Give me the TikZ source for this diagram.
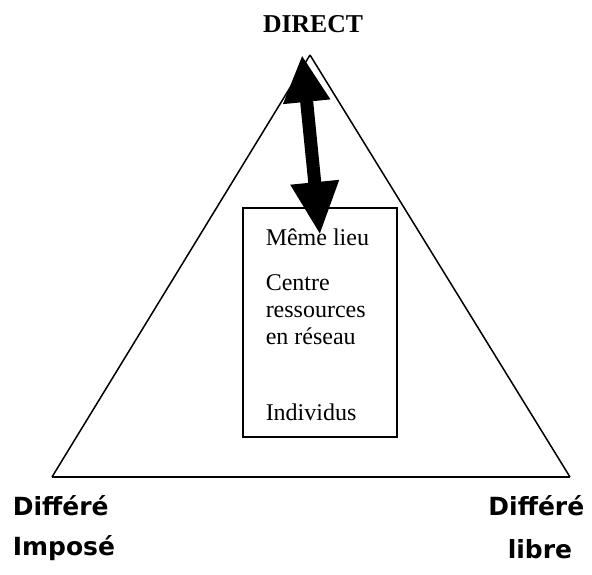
\documentclass[tikz,border=0pt]{standalone}
\usepackage{fontspec}
\setmainfont{Liberation Serif}
\newfontfamily\cornerfont{DejaVu Sans}
\usepackage{tikz}
\usetikzlibrary{arrows.meta,positioning}

\tikzset{
  boxtext/.style={anchor=base west,inner sep=0pt,font=\fontsize{24}{28}\selectfont},
  corner/.style={inner sep=0pt,font=\cornerfont\bfseries\fontsize{25}{30}\selectfont}
}

\begin{document}
\begin{tikzpicture}
  [x=1pt,y=-1pt,line width=1.5pt]
  \useasboundingbox (0,0) rectangle (592,574);
  % triangle corners
  \coordinate (top) at (310,55);
  \coordinate (left) at (52,477);
  \coordinate (right) at (570,477);
  \foreach \from/\to in {top/left,left/right,right/top}
    \draw (\from) -- (\to);
  % box in the middle
  \node (box) [draw,minimum width=154pt,minimum height=229pt,inner sep=0pt] at (320,322.5) {};
  \node (lieu) [boxtext] at (265,245) {Même lieu};
  \node (centre) [boxtext] at (265,290) {Centre};
  \node (ress) [boxtext] at (265,317) {ressources};
  \node (reseau) [boxtext] at (265,344) {en réseau};
  \node (indiv) [boxtext] at (265,420) {Individus};
  % double arrow
  \coordinate (up) at (302,55);
  \coordinate (down) at (320,235);
  \draw [line width=13pt,{Triangle[width=44pt,length=47pt]}-{Triangle[width=45pt,length=53pt]}] (up) -- (down);
  % labels
  \node (direct) [anchor=base,inner sep=0pt,font=\bfseries\fontsize{25.7}{30}\selectfont] at (313,32) {DIRECT};
  \node (diff1) [corner,anchor=base west] at (12,515) {Différé};
  \node (impose) [corner,anchor=base west] at (12,555) {Imposé};
  \node (diff2) [corner,anchor=base east] at (585,515) {Différé};
  \node (libre) [corner,anchor=base] at (540,558) {libre};
\end{tikzpicture}
\end{document}
